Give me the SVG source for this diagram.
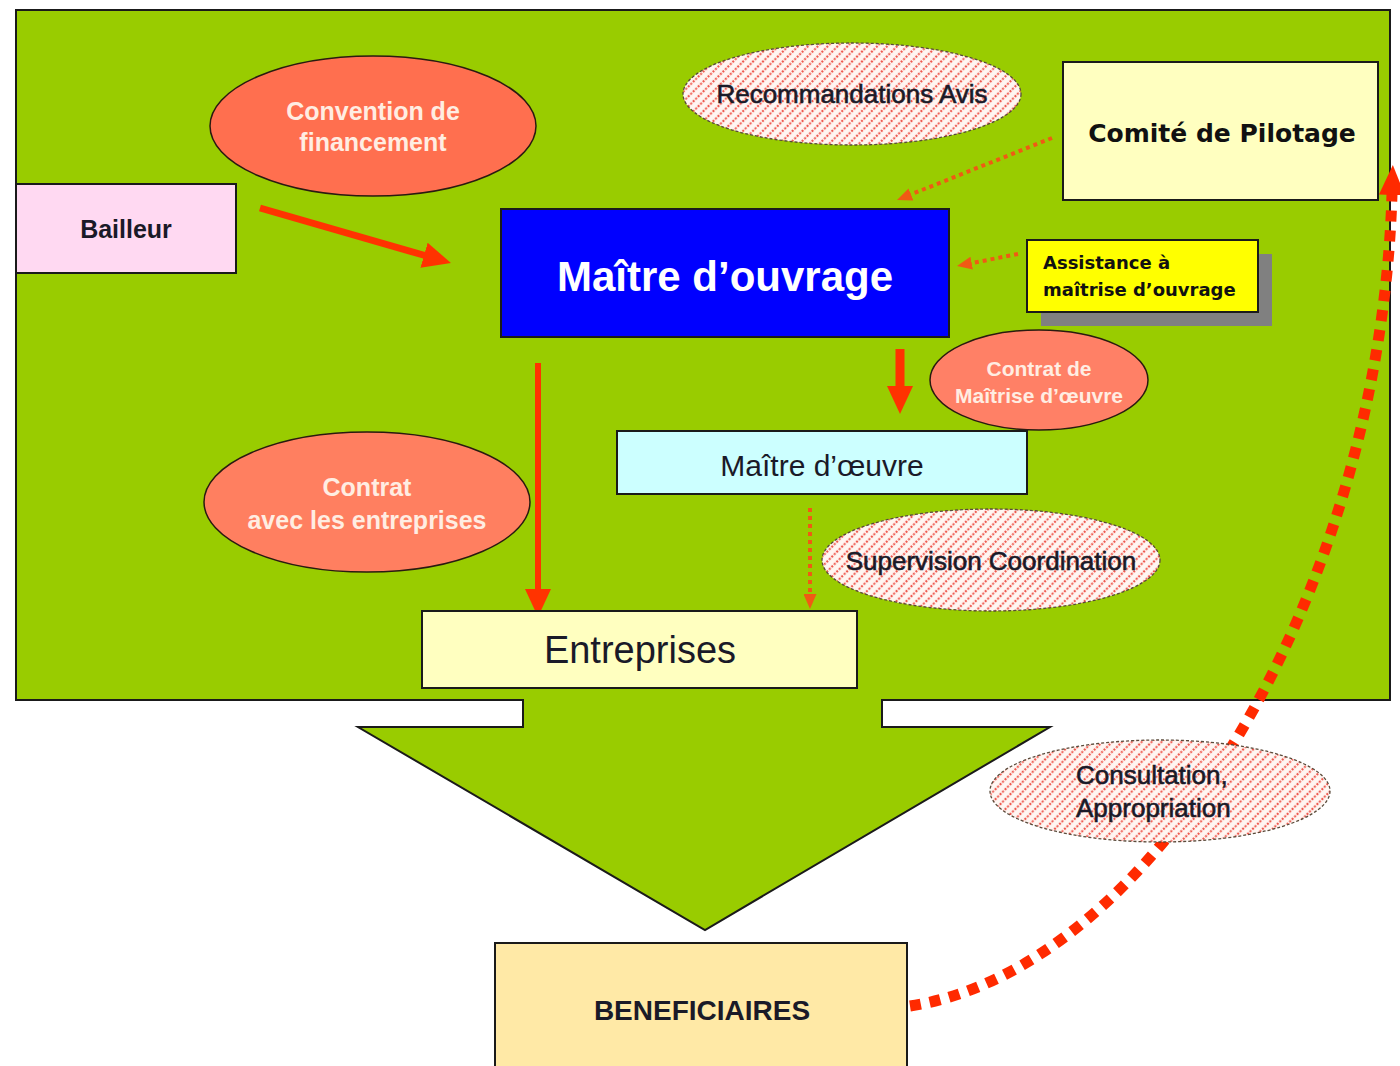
<svg xmlns="http://www.w3.org/2000/svg" width="1400" height="1066" viewBox="0 0 1400 1066">
<style>
.box{stroke:#1a1a1a;stroke-width:2}
.oval{stroke:#2a1a10;stroke-width:1.5}
.hatch{fill:url(#hatch);stroke:#5a4a3a;stroke-width:1.3;stroke-dasharray:3 2}
.t{font-family:"Liberation Sans",Arial,sans-serif;fill:#1a1a28;text-anchor:middle}
.b{font-weight:bold}
.w{fill:#FFEDE2}
.h{stroke:#1a1a28;stroke-width:0.6}
.v{font-family:"DejaVu Sans",Verdana,sans-serif;font-weight:bold;fill:#111}
.solid{stroke:#FF3300;fill:none}
.dot{stroke:#F05A14;stroke-width:4;stroke-dasharray:4 4;fill:none}
</style>
<defs>
<pattern id="hatch" width="7" height="7" patternUnits="userSpaceOnUse" patternTransform="rotate(45)">
<rect width="7" height="7" fill="#FFF6F2"/>
<line x1="2" y1="0" x2="2" y2="7" stroke="#EE5A50" stroke-width="2.2" stroke-dasharray="2 1.5"/>
</pattern>
<marker id="redHead" viewBox="0 0 28 26" markerWidth="28" markerHeight="26" refX="1" refY="13" orient="auto" markerUnits="userSpaceOnUse">
<path d="M0,0 L28,13 L0,26 Z" fill="#FF3300"/>
</marker>
<marker id="curveHead" viewBox="0 0 30 26" markerWidth="30" markerHeight="26" refX="1" refY="13" orient="auto" markerUnits="userSpaceOnUse">
<path d="M0,0 L30,13 L0,26 Z" fill="#FF2A00"/>
</marker>
<marker id="dotHead" viewBox="0 0 15 13" markerWidth="15" markerHeight="13" refX="1" refY="6.5" orient="auto" markerUnits="userSpaceOnUse">
<path d="M0,0 L15,6.5 L0,13 Z" fill="#F05A14"/>
</marker>
</defs>
<rect width="1400" height="1066" fill="#ffffff"/>
<g id="background">
<path d="M16,10 H1390 V700 H882 V727 H1050 L705,930 L358,727 H523 V700 H16 Z" fill="#99CC00" stroke="#1a1a1a" stroke-width="2"/>
</g>
<g id="connectors">
<line class="solid" x1="260" y1="208" x2="425" y2="255.5" stroke-width="7" marker-end="url(#redHead)"/>
<line class="solid" x1="538" y1="363" x2="538" y2="590" stroke-width="6" marker-end="url(#redHead)"/>
<line class="solid" x1="900" y1="349" x2="900" y2="387" stroke-width="9" marker-end="url(#redHead)"/>
<line class="dot" x1="1052" y1="138" x2="910" y2="194.8" marker-end="url(#dotHead)"/>
<line class="dot" x1="1018" y1="254" x2="970.7" y2="263.3" marker-end="url(#dotHead)"/>
<line class="dot" x1="810" y1="508" x2="810" y2="595" marker-end="url(#dotHead)"/>
<path d="M910,1006 C1150,970 1380,600 1392,194" fill="none" stroke="#FF2A00" stroke-width="11" stroke-dasharray="11 9" marker-end="url(#curveHead)"/>
</g>
<g id="bailleur">
<rect class="box" x="16" y="184" width="220" height="89" fill="#FFD9F2"/>
<text class="t b" x="126" y="238" font-size="25">Bailleur</text>
</g>
<g id="convention">
<ellipse class="oval" cx="373" cy="126" rx="163" ry="70" fill="#FF6F4F"/>
<text class="t b w" x="373" y="120" font-size="25">Convention de</text>
<text class="t b w" x="373" y="151" font-size="25">financement</text>
</g>
<g id="maitre-ouvrage">
<rect class="box" x="501" y="209" width="448" height="128" fill="#0000FF"/>
<text class="t b" x="725" y="291" font-size="42" style="fill:#ffffff">Maître d’ouvrage</text>
</g>
<g id="recommandations">
<ellipse class="hatch" cx="852" cy="94" rx="169" ry="51"/>
<text class="t h" x="852" y="103" font-size="26">Recommandations Avis</text>
</g>
<g id="comite">
<rect class="box" x="1063" y="62" width="315" height="138" fill="#FFFFC0"/>
<text class="v" x="1222" y="142" font-size="25" text-anchor="middle">Comité de Pilotage</text>
</g>
<g id="assistance">
<rect x="1041" y="254" width="231" height="72" fill="#808080"/>
<rect class="box" x="1027" y="240" width="231" height="72" fill="#FFFF00"/>
<text class="v" x="1043" y="269" font-size="18">Assistance à</text>
<text class="v" x="1043" y="296" font-size="18">maîtrise d’ouvrage</text>
</g>
<g id="contrat-moe">
<ellipse class="oval" cx="1039" cy="380" rx="109" ry="50" fill="#FF8066"/>
<text class="t b w" x="1039" y="376" font-size="21">Contrat de</text>
<text class="t b w" x="1039" y="403" font-size="21">Maîtrise d’œuvre</text>
</g>
<g id="maitre-oeuvre">
<rect class="box" x="617" y="431" width="410" height="63" fill="#CCFFFF"/>
<text class="t" x="822" y="476" font-size="30">Maître d’œuvre</text>
</g>
<g id="contrat-entreprises">
<ellipse class="oval" cx="367" cy="502" rx="163" ry="70" fill="#FF7F60"/>
<text class="t b w" x="367" y="496" font-size="25">Contrat</text>
<text class="t b w" x="367" y="529" font-size="25">avec les entreprises</text>
</g>
<g id="supervision">
<ellipse class="hatch" cx="991" cy="560" rx="169" ry="51"/>
<text class="t h" x="991" y="570" font-size="26">Supervision Coordination</text>
</g>
<g id="entreprises">
<rect class="box" x="422" y="611" width="435" height="77" fill="#FFFFC0"/>
<text class="t" x="640" y="663" font-size="38">Entreprises</text>
</g>
<g id="consultation">
<ellipse class="hatch" cx="1160" cy="791" rx="170" ry="51"/>
<text class="t h" x="1076" y="784" font-size="26" style="text-anchor:start">Consultation,</text>
<text class="t h" x="1076" y="817" font-size="26" style="text-anchor:start">Appropriation</text>
</g>
<g id="beneficiaires">
<rect class="box" x="495" y="943" width="412" height="130" fill="#FFE9A6"/>
<text class="t b" x="702" y="1020" font-size="28">BENEFICIAIRES</text>
</g>
</svg>
